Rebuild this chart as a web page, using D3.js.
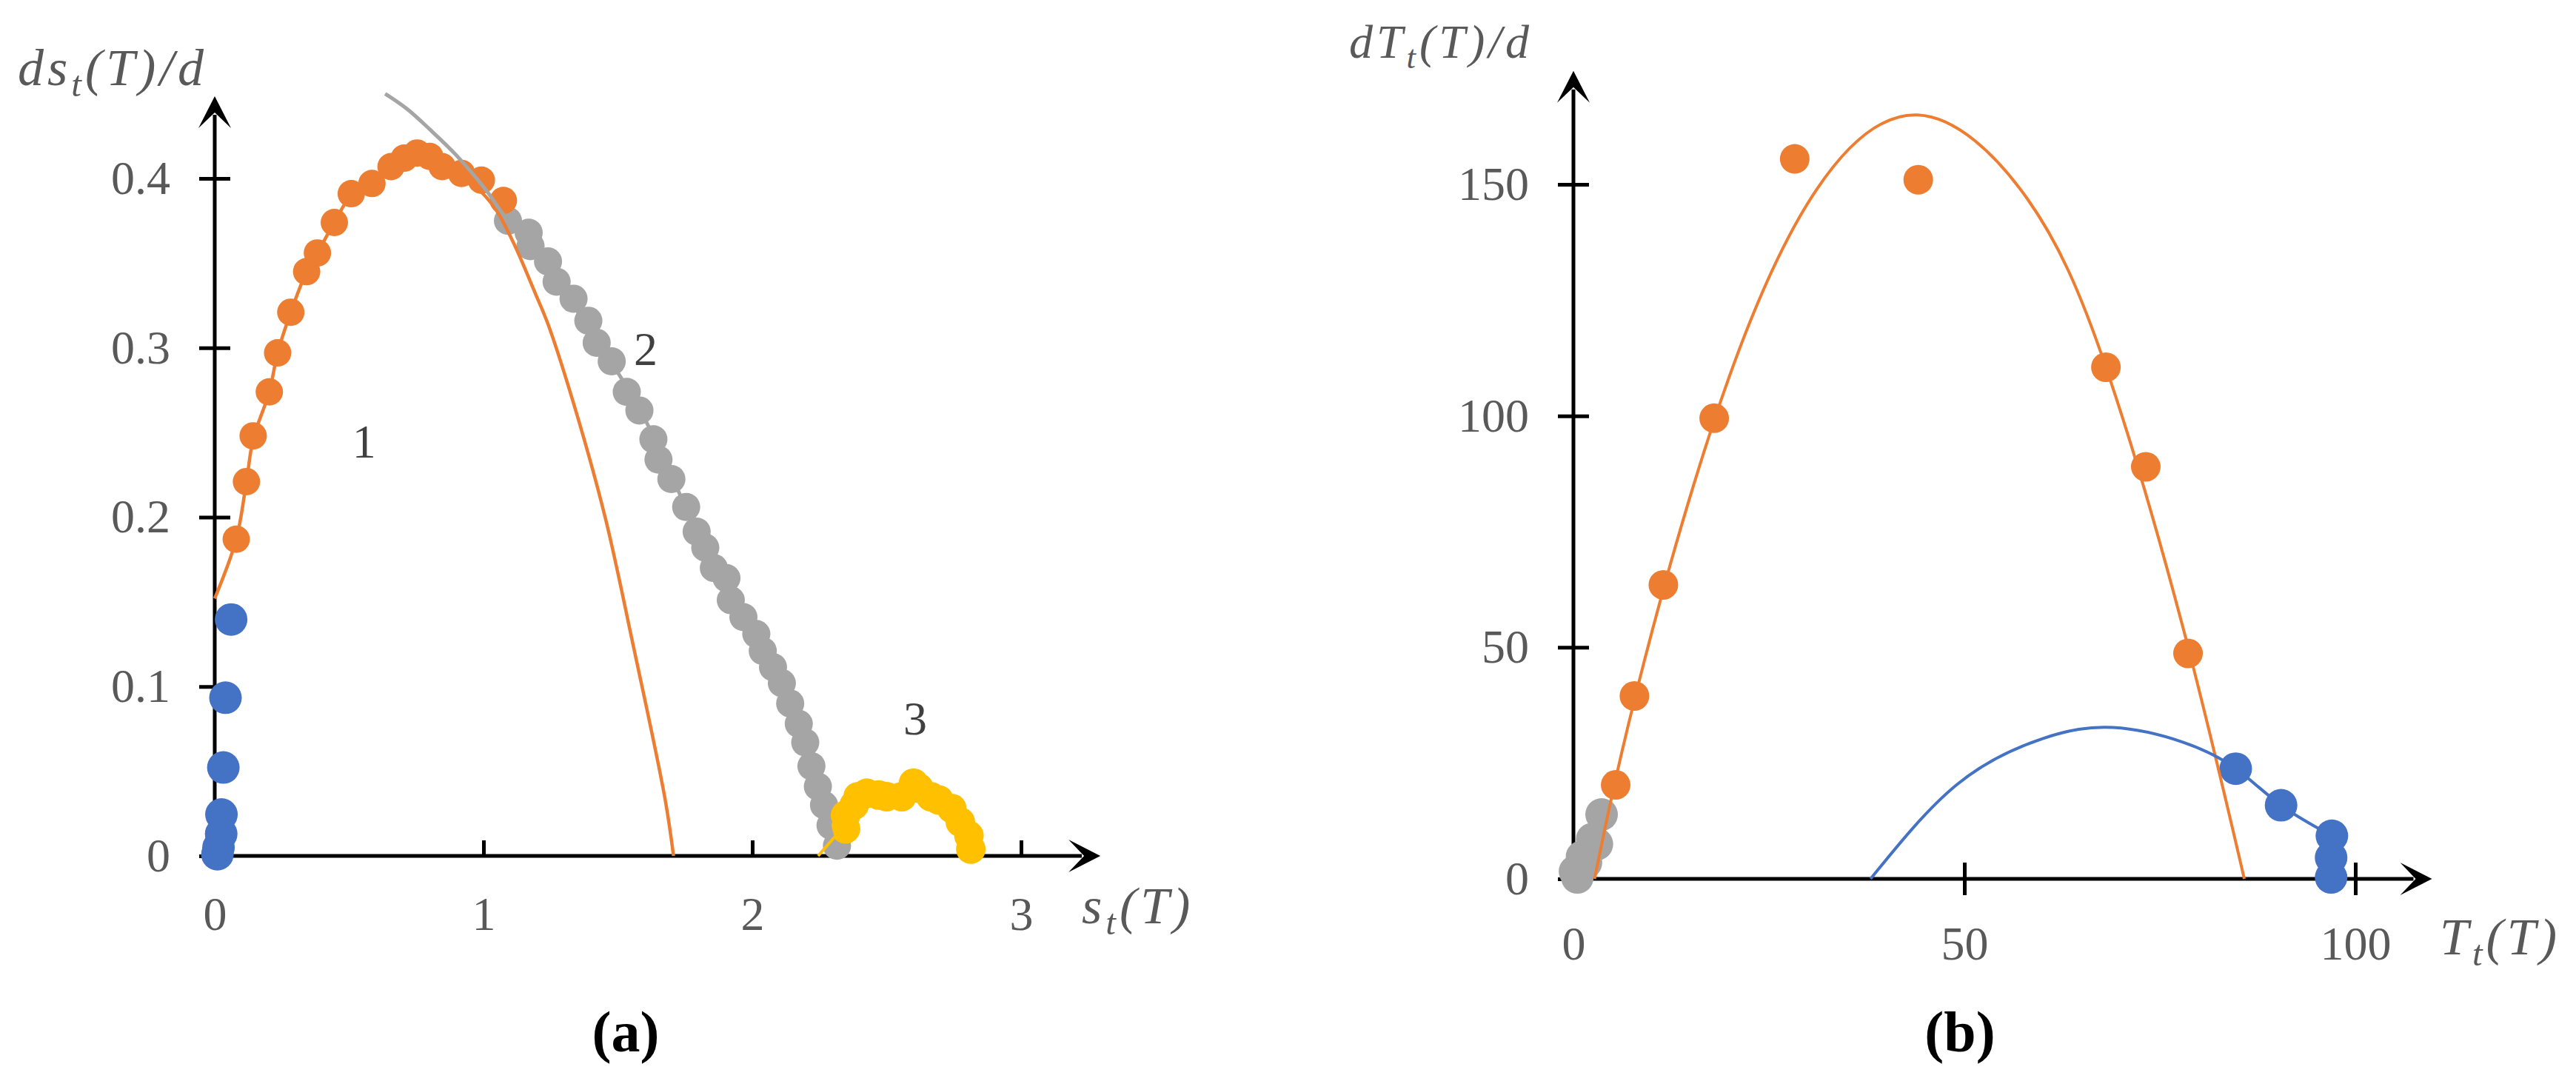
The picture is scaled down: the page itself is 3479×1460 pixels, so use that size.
<!DOCTYPE html>
<html><head><meta charset="utf-8">
<script src="https://cdn.jsdelivr.net/npm/d3@7"></script>
<style>body{margin:0;background:#fff} svg{display:block;background:#fff}</style>
</head><body>
<svg id="c" width="3479" height="1460"></svg>
<script>
// ---------- Panel (a) data: s_t(T) vs ds_t(T)/d ----------
const aBlue = [[0.061,0.1396],[0.040,0.0934],[0.032,0.0522],[0.025,0.0245],[0.024,0.013],[0.014,0.005],[0.010,0.001]];
const aOrange = [[0.080,0.187],[0.118,0.221],[0.143,0.248],[0.203,0.274],[0.234,0.297],[0.283,0.321],[0.342,0.345],[0.382,0.356],[0.445,0.374],[0.508,0.391],[0.585,0.397],[0.656,0.407],[0.705,0.412],[0.753,0.415],[0.800,0.413],[0.846,0.407],[0.918,0.403],[0.992,0.399],[1.074,0.387]];
const aOrangeFit = [[0,0.152],[0.080,0.187],[0.118,0.221],[0.143,0.246],[0.203,0.274],[0.234,0.297],[0.283,0.321],[0.342,0.345],[0.382,0.356],[0.445,0.374],[0.508,0.390],[0.585,0.397],[0.656,0.407],[0.75,0.413],[0.85,0.407],[0.95,0.398],[1.04,0.383],[1.11,0.3625],[1.193,0.332],[1.24,0.314],[1.343,0.263],[1.454,0.199],[1.556,0.125],[1.675,0.034],[1.707,0]];
const aGray = [[1.091,0.375],[1.168,0.368],[1.175,0.360],[1.240,0.351],[1.272,0.339],[1.335,0.329],[1.390,0.316],[1.421,0.303],[1.477,0.292],[1.533,0.274],[1.580,0.263],[1.632,0.246],[1.651,0.234],[1.699,0.2225],[1.754,0.206],[1.793,0.1915],[1.825,0.182],[1.857,0.170],[1.904,0.164],[1.920,0.151],[1.967,0.141],[2.015,0.131],[2.039,0.121],[2.077,0.1115],[2.110,0.102],[2.141,0.090],[2.173,0.078],[2.197,0.067],[2.220,0.053],[2.244,0.041],[2.267,0.030],[2.291,0.018],[2.315,0.006]];
const aGrayFit = [[0.634,0.450],[0.716,0.441],[0.80,0.429],[0.90,0.4135],[1.01,0.393],[1.083,0.377],[1.17,0.364],[1.30,0.333],[1.45,0.298],[1.60,0.258],[1.75,0.207],[1.90,0.160],[2.05,0.119],[2.20,0.065],[2.30,0.010]];
const aYellow = [[2.347,0.016],[2.347,0.024],[2.379,0.030],[2.394,0.035],[2.426,0.037],[2.470,0.036],[2.500,0.035],[2.556,0.035],[2.600,0.043],[2.620,0.040],[2.664,0.035],[2.694,0.033],[2.742,0.028],[2.774,0.020],[2.806,0.012],[2.813,0.004]];
const aYellowFit = [[2.245,0.0],[2.30,0.010],[2.347,0.018],[2.40,0.033],[2.50,0.035],[2.60,0.040],[2.70,0.033],[2.77,0.020],[2.81,0.005]];
const aXTicks = [0,1,2,3];
const aXTickLabels = ["0","1","2","3"];
const aYTicks = [0,0.1,0.2,0.3,0.4];
const aYTickLabels = ["0","0.1","0.2","0.3","0.4"];
const aCurveLabels = [{t:"1",x:0.556,y:0.2352},{t:"2",x:1.603,y:0.2898},{t:"3",x:2.606,y:0.0717}];
const aXMax = 3.295, aYMax = 0.4485;

// ---------- Panel (b) data: T_t(T) vs dT_t(T)/d ----------
const bOrange = [[5.4,20.3],[7.8,39.5],[11.5,63.5],[18.0,99.5],[28.3,155.5],[44.1,151],[68.1,110.5],[73.2,89],[78.6,48.7]];
const bOrangeFit = [[2.7,0],[8,40],[18,99],[30,146],[44,165],[58,147],[68,111],[78,54],[85.8,0]];
const bBlue = [[84.7,23.8],[90.5,15.9],[97.0,9.3],[96.9,4.6],[96.9,0.3]];
const bBlueFit = [[38,0],[49,20.3],[60,30.3],[69,32.7],[78,29.5],[84.7,23.8],[90.5,15.9],[97,9.3]];
const bGray = [[0.2,1.6],[0.5,0.3],[1.1,4.8],[1.6,3.5],[2.4,8.6],[3.0,7.5],[3.6,13.9]];
const bXTicks = [0,50,100];
const bXTickLabels = ["0","50","100"];
const bYTicks = [0,50,100,150];
const bYTickLabels = ["0","50","100","150"];
const bXMax = 109.8, bYMax = 174.5;

// ---------- colours ----------
const C = {orange:"#ED7D31", gray:"#A5A5A5", yellow:"#FFC000", blue:"#4472C4", text:"#595959", dark:"#404040"};
const SERIF = "'Liberation Serif','Times New Roman',serif";

const svg = d3.select("#c");

// scales
const xa = d3.scaleLinear().domain([0,3]).range([290,1379]);
const ya = d3.scaleLinear().domain([0,0.4]).range([1156,241]);
const xb = d3.scaleLinear().domain([0,100]).range([2125,3181]);
const yb = d3.scaleLinear().domain([0,150]).range([1187,249]);

const arrowPath = "M0,0 L-43,-22 L-22,0 L-43,22 Z";

function drawAxes(g, x, y, xTicks, xLabels, yTicks, yLabels, xMax, yMax, xCross, xLabelY){
  const ay = g.append("g").attr("transform",`translate(${x(0)},0)`)
    .call(d3.axisLeft(y).tickValues(yTicks).tickFormat((d,i)=>yLabels[i]).tickSizeInner(21).tickSizeOuter(0).tickPadding(39));
  ay.select(".domain").remove();
  ay.attr("font-family",null).attr("font-size",null);
  ay.selectAll(".tick line").attr("x1",21).attr("stroke","#000").attr("stroke-width",5);
  ay.selectAll(".tick text").attr("font-family",SERIF).attr("font-size",64).attr("fill",C.text);
  const ax = g.append("g").attr("transform",`translate(0,${y(0)})`)
    .call(d3.axisBottom(x).tickValues(xTicks).tickFormat((d,i)=>xLabels[i]).tickSizeInner(22).tickSizeOuter(0));
  ax.select(".domain").remove();
  ax.attr("font-family",null).attr("font-size",null);
  ax.selectAll(".tick line").attr("stroke","#000").attr("stroke-width",5)
    .attr("y1", xCross ? -22 : -21).attr("y2", xCross ? 22 : 0)
    .attr("display", d => d===0 ? "none" : null);
  ax.selectAll(".tick text").attr("font-family",SERIF).attr("font-size",64).attr("fill",C.text).attr("y",xLabelY);
  g.append("line").attr("x1",x(0)).attr("x2",x(xMax)-25).attr("y1",y(0)).attr("y2",y(0)).attr("stroke","#000").attr("stroke-width",5);
  g.append("line").attr("x1",x(0)).attr("x2",x(0)).attr("y1",y(0)+2.5).attr("y2",y(yMax)+25).attr("stroke","#000").attr("stroke-width",5);
  g.append("path").attr("d",arrowPath).attr("transform",`translate(${x(xMax)},${y(0)})`).attr("fill","#000");
  g.append("path").attr("d",arrowPath).attr("transform",`translate(${x(0)},${y(yMax)}) rotate(-90)`).attr("fill","#000");
}

function dots(g, data, x, y, r, color){
  g.append("g").selectAll("circle").data(data).join("circle")
    .attr("cx",d=>x(d[0])).attr("cy",d=>y(d[1])).attr("r",r).attr("fill",color);
}
function curve(g, data, x, y, color, w, c){
  g.append("path").datum(data)
    .attr("d", d3.line().x(d=>x(d[0])).y(d=>y(d[1])).curve(c || d3.curveCatmullRom.alpha(0.5)))
    .attr("fill","none").attr("stroke",color).attr("stroke-width",w).attr("stroke-linejoin","round");
}
function title(g, x0, y0, main, sub, rest, size, spacing){
  const t = g.append("text").attr("x",x0).attr("y",y0).attr("font-family",SERIF).attr("font-style","italic")
    .attr("font-size",size).attr("fill",C.text).attr("letter-spacing",spacing);
  t.append("tspan").text(main);
  t.append("tspan").attr("font-size",size*0.7).attr("dy",size*0.22).text(sub);
  t.append("tspan").attr("dy",-size*0.22).text(rest);
}

// ---------- Panel (a) ----------
const ga = svg.append("g");
drawAxes(ga, xa, ya, aXTicks, aXTickLabels, aYTicks, aYTickLabels, aXMax, aYMax, false, 55);
dots(ga, aBlue, xa, ya, 22, C.blue);
dots(ga, aGray, xa, ya, 19, C.gray);
dots(ga, aYellow, xa, ya, 20, C.yellow);
dots(ga, aOrange, xa, ya, 18.5, C.orange);
curve(ga, aOrangeFit, xa, ya, C.orange, 4.5);
curve(ga, aGrayFit, xa, ya, C.gray, 5);
curve(ga, aYellowFit, xa, ya, C.yellow, 4);
ga.append("g").selectAll("text").data(aCurveLabels).join("text")
  .attr("x",d=>xa(d.x)).attr("y",d=>ya(d.y)).attr("text-anchor","middle")
  .attr("font-family",SERIF).attr("font-size",64).attr("fill",C.dark).text(d=>d.t);
title(ga, 24, 115, "ds", "t", "(T)/d", 70, 5);
title(ga, 1461, 1247, "s", "t", "(T)", 70, 5);
ga.append("text").attr("x",845).attr("y",1420).attr("text-anchor","middle").attr("font-family",SERIF)
  .attr("font-weight","bold").attr("font-size",78).attr("fill","#000").text("(a)");

// ---------- Panel (b) ----------
const gb = svg.append("g");
drawAxes(gb, xb, yb, bXTicks, bXTickLabels, bYTicks, bYTickLabels, bXMax, bYMax, true, 64);
dots(gb, bGray, xb, yb, 22, C.gray);
dots(gb, bOrange, xb, yb, 20, C.orange);
dots(gb, bBlue, xb, yb, 22, C.blue);
curve(gb, bOrangeFit, xb, yb, C.orange, 4, d3.curveNatural);
curve(gb, bBlueFit, xb, yb, C.blue, 4, d3.curveNatural);
title(gb, 1822, 78, "dT", "t", "(T)/d", 64, 5);
title(gb, 3295, 1289, "T", "t", "(T)", 70, 5);
gb.append("text").attr("x",2647).attr("y",1420).attr("text-anchor","middle").attr("font-family",SERIF)
  .attr("font-weight","bold").attr("font-size",78).attr("fill","#000").text("(b)");
</script>
</body></html>
